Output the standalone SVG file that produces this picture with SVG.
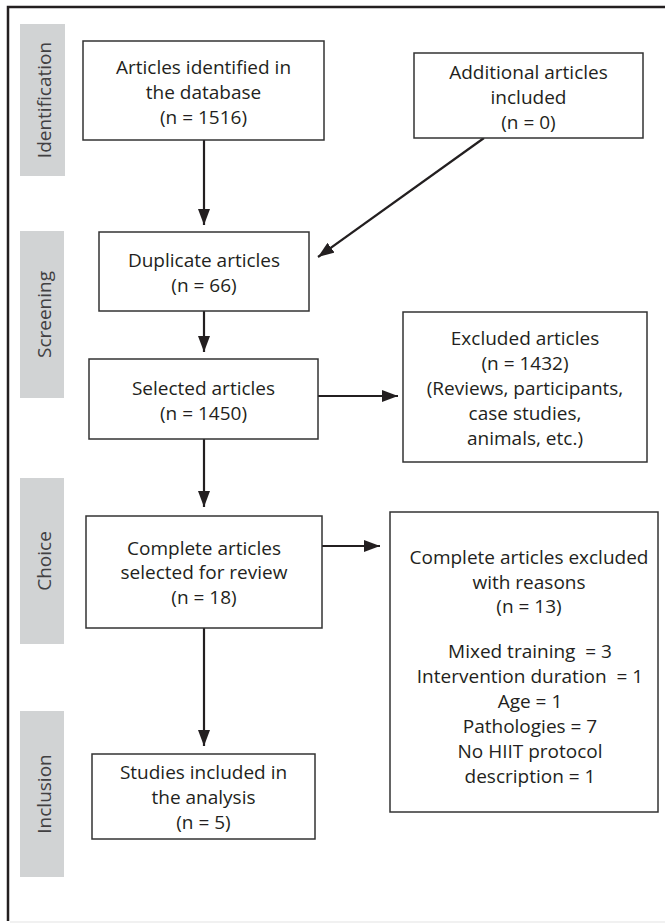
<svg xmlns="http://www.w3.org/2000/svg" width="665" height="923" viewBox="0 0 665 923">
<defs>
<style>
.box{fill:#fff;stroke:#333;stroke-width:1.5}
.t{font-family:"Open Sans","Liberation Sans",sans-serif;font-size:19px;fill:#231f20;text-anchor:middle}
.lab{fill:#d1d3d4}
.lt{font-family:"Open Sans","Liberation Sans",sans-serif;font-size:19px;fill:#414042;text-anchor:middle}
.c{stroke:#231f20;stroke-width:2.2;fill:none;marker-end:url(#ah)}
</style>
<marker id="ah" viewBox="0 0 16 12" refX="16" refY="6" markerWidth="16" markerHeight="12" markerUnits="userSpaceOnUse" orient="auto">
<path d="M0,0 L16,6 L0,12 z" fill="#231f20"/>
</marker>
</defs>
<rect width="665" height="923" fill="#fff"/>
<path d="M665,7 H8 V921" fill="none" stroke="#231f20" stroke-width="2.5"/>
<line x1="10" y1="922" x2="665" y2="922" stroke="#ececec" stroke-width="1.5"/>

<g id="stage-identification"><rect class="lab" x="20" y="24" width="45" height="152"/><text class="lt" transform="translate(51,100) rotate(-90)">Identification</text></g>
<g id="stage-screening"><rect class="lab" x="20" y="231" width="44" height="167"/><text class="lt" transform="translate(51,314.5) rotate(-90)">Screening</text></g>
<g id="stage-choice"><rect class="lab" x="20" y="478" width="44" height="166"/><text class="lt" transform="translate(51,561) rotate(-90)">Choice</text></g>
<g id="stage-inclusion"><rect class="lab" x="20" y="711" width="44" height="166"/><text class="lt" transform="translate(51,794) rotate(-90)">Inclusion</text></g>

<g id="connectors">
<line class="c" x1="204" y1="140" x2="204" y2="225"/>
<line class="c" x1="484" y1="138" x2="318" y2="257"/>
<line class="c" x1="204" y1="311" x2="204" y2="352"/>
<line class="c" x1="318" y1="396" x2="398" y2="396"/>
<line class="c" x1="204" y1="439" x2="204" y2="507"/>
<line class="c" x1="322" y1="546" x2="380" y2="546"/>
<line class="c" x1="204" y1="628" x2="204" y2="746"/>
</g>

<g id="n-identified"><rect class="box" x="83" y="41" width="241" height="99"/>
<text class="t" x="203.5" y="74">Articles identified in</text>
<text class="t" x="203.5" y="99">the database</text>
<text class="t" x="203.5" y="124">(n = 1516)</text></g>

<g id="n-additional"><rect class="box" x="414" y="53" width="229" height="85"/>
<text class="t" x="528.5" y="79">Additional articles</text>
<text class="t" x="528.5" y="104">included</text>
<text class="t" x="528.5" y="129">(n = 0)</text></g>

<g id="n-duplicate"><rect class="box" x="99" y="232" width="210" height="79"/>
<text class="t" x="204" y="267">Duplicate articles</text>
<text class="t" x="204" y="292">(n = 66)</text></g>

<g id="n-selected"><rect class="box" x="89" y="359" width="229" height="80"/>
<text class="t" x="203.5" y="395">Selected articles</text>
<text class="t" x="203.5" y="420">(n = 1450)</text></g>

<g id="n-excluded"><rect class="box" x="403" y="312" width="244" height="150"/>
<text class="t" x="525" y="345">Excluded articles</text>
<text class="t" x="525" y="370">(n = 1432)</text>
<text class="t" x="525" y="395">(Reviews, participants,</text>
<text class="t" x="525" y="420">case studies,</text>
<text class="t" x="525" y="445">animals, etc.)</text></g>

<g id="n-complete"><rect class="box" x="86" y="516" width="236" height="112"/>
<text class="t" x="204" y="555">Complete articles</text>
<text class="t" x="204" y="579">selected for review</text>
<text class="t" x="204" y="604">(n = 18)</text></g>

<g id="n-complete-excluded"><rect class="box" x="390" y="512" width="268" height="300"/>
<text class="t" x="529" y="564">Complete articles excluded</text>
<text class="t" x="529" y="589">with reasons</text>
<text class="t" x="529" y="613">(n = 13)</text>
<text class="t" x="530" y="658" xml:space="preserve">Mixed training  = 3</text>
<text class="t" x="530" y="683" xml:space="preserve">Intervention duration  = 1</text>
<text class="t" x="530" y="708">Age = 1</text>
<text class="t" x="530" y="733">Pathologies = 7</text>
<text class="t" x="530" y="758">No HIIT protocol</text>
<text class="t" x="530" y="783">description = 1</text></g>

<g id="n-included"><rect class="box" x="92" y="754" width="223" height="85"/>
<text class="t" x="203.5" y="779">Studies included in</text>
<text class="t" x="203.5" y="804">the analysis</text>
<text class="t" x="203.5" y="829">(n = 5)</text></g>
</svg>
